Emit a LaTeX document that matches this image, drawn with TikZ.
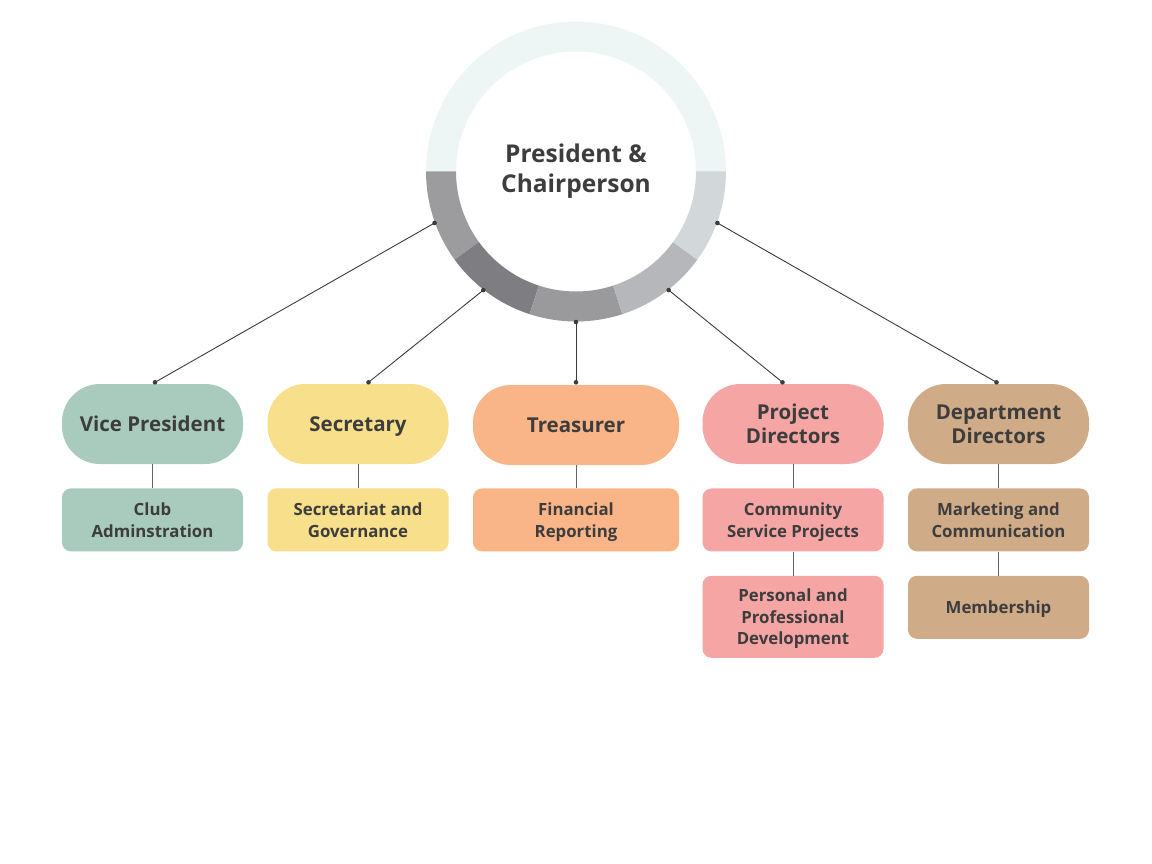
\documentclass[tikz,border=0pt]{standalone}
\usepackage{fontspec}
\setmainfont{Open Sans}
\usetikzlibrary{positioning,calc}

\definecolor{txt}{HTML}{3D3D3D}
\definecolor{vpcol}{HTML}{A9CBBE}
\definecolor{seccol}{HTML}{F7DF8B}
\definecolor{trecol}{HTML}{F9B488}
\definecolor{procol}{HTML}{F6A5A5}
\definecolor{depcol}{HTML}{CFAB88}
\definecolor{ringA}{HTML}{EEF6F5}
\definecolor{ringB}{HTML}{9C9C9F}
\definecolor{ringC}{HTML}{7E7D82}
\definecolor{ringD}{HTML}{9A9A9D}
\definecolor{ringE}{HTML}{B5B7BA}
\definecolor{ringF}{HTML}{D2D7D9}

\begin{document}
\begin{tikzpicture}[x=1pt,y=-1pt,
        node distance=24pt,
        head/.style={rounded corners=38pt, minimum width=181pt,
                     minimum height=80pt, align=center, text=txt,
                     font=\fontsize{20.5}{24}\selectfont\bfseries,
                     text depth=0pt},
        sub/.style={rounded corners=9pt, minimum width=181pt,
                    minimum height=63pt, align=center, text=txt,
                    font=\fontsize{16.8}{21.5}\selectfont\bfseries,
                    text depth=0pt},
        link/.style={draw=txt, line width=0.9pt},
        stem/.style={draw=txt!80, line width=1pt}]
  \useasboundingbox[fill=white] (0,0) rectangle (1152,864);

  % centre ring
  \node[circle, minimum size=240pt, text=txt, align=center,
        font=\fontsize{24.5}{30}\selectfont\bfseries] (pc) at (576,171.5)
        {President \&\\Chairperson};
  \foreach \s/\e/\c in {0/180/ringA,180/216/ringB,216/252/ringC,
                        252/288/ringD,288/324/ringE,324/360/ringF}
    \fill[\c] (pc.center) ++(\s:150pt) arc[start angle=\s, end angle=\e, radius=150pt]
      -- ++(\e:-30pt) arc[start angle=\e, end angle=\s, radius=120pt] -- cycle;

  % heads
  \node[head, fill=vpcol] (vp) at (152.5,424) {Vice President};
  \node[head, fill=seccol] (sec) at (358,424) {Secretary};
  \node[head, fill=trecol, minimum width=206pt] (tre) at (576,425) {Treasurer};
  \node[head, fill=procol] (pro) at (793,424) {Project\\Directors};
  \node[head, fill=depcol] (dep) at (998.5,424) {Department\\Directors};

  % subs
  \node[sub, fill=vpcol, below=of vp] (vpsub) {Club\\Adminstration};
  \node[sub, fill=seccol, below=of sec] (secsub) {Secretariat and\\Governance};
  \node[sub, fill=trecol, minimum width=206pt, below=23pt of tre] (tresub) {Financial\\Reporting};
  \node[sub, fill=procol, below=of pro] (prosub) {Community\\Service Projects};
  \node[sub, fill=procol, below=of prosub, minimum height=82pt] (prodev)
        {Personal and\\Professional\\Development};
  \node[sub, fill=depcol, below=of dep] (depsub) {Marketing and\\Communication};
  \node[sub, fill=depcol, below=of depsub] (depmem) {Membership};

  % ends of the links
  \foreach \a/\n in {200/r1,232/r2,270/r3,308/r4,340/r5}
    \path (pc.center) ++(\a:150.5pt) coordinate (\n);
  \coordinate (t1) at ($(vp.north)+(2.5,-1.5)$);
  \coordinate (t2) at ($(sec.north)+(10.5,-1.5)$);
  \coordinate (t3) at ($(tre.north)+(0,-2.5)$);
  \coordinate (t4) at ($(pro.north)+(-10.5,-1.5)$);
  \coordinate (t5) at ($(dep.north)+(-2,-1.5)$);
  \foreach \i in {1,...,5}{
    \draw[link] (r\i) -- (t\i);
    \fill[txt] (r\i) circle (2.3pt) (t\i) circle (2.3pt);
  }

  \foreach \a/\b in {vp/vpsub,sec/secsub,tre/tresub,pro/prosub,prosub/prodev,dep/depsub,depsub/depmem}
    \draw[stem] (\a) -- (\b);
\end{tikzpicture}
\end{document}
